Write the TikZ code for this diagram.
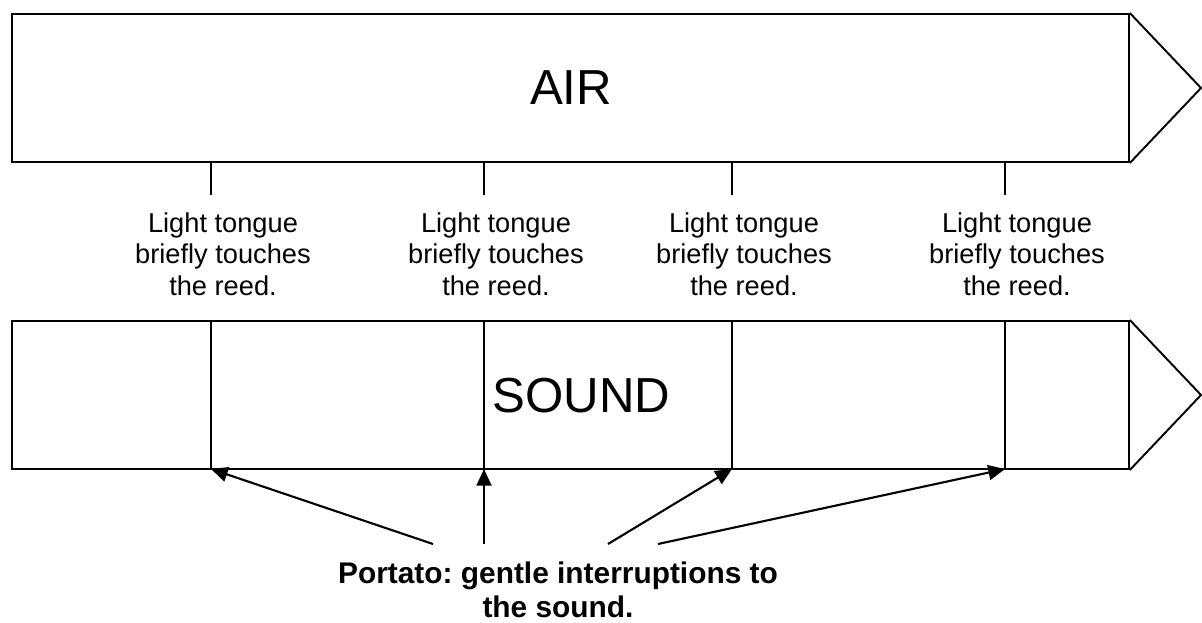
\documentclass[tikz,border=0pt]{standalone}
\usepackage{fontspec}
\setmainfont{Liberation Sans}
\usetikzlibrary{arrows.meta, positioning}
\frenchspacing

\begin{document}
\begin{tikzpicture}[
  x=0.02cm, y=-0.02cm,
  bar/.style={draw, line width=1.1pt, minimum width=22.34cm, minimum height=2.96cm, inner sep=0pt},
  big/.style={font=\fontsize{28}{32}\selectfont},
  note/.style={align=center, font=\fontsize{15.5}{18}\selectfont},
  caption/.style={align=center, font=\fontsize{17}{19.5}\selectfont\bfseries},
  tick/.style={line width=1pt},
  tip/.style={line width=1.1pt, line join=miter},
  arrow/.style={-{Triangle[length=9.5pt,width=8.5pt]}, line width=1.2pt}
]
\useasboundingbox (0,0) rectangle (1202,622);

% Air and sound bars
\node[bar] (air) at (570.5,88) {};
\node[bar] (sound) at (570.5,395) {};
\node[big] (airtext) at (571,88) {AIR};
\node[big] (soundtext) at (581.5,396) {SOUND};
\draw[tip] (air.north east) -- (1201,88) -- (air.south east);
\draw[tip] (sound.north east) -- (1201,395) -- (sound.south east);

% Tongue touches and breaks in the sound
\foreach \x/\n in {211/1, 484/2, 732/3, 1005/4} {
  \draw[tick] (\x,162) -- (\x,195);
  \draw[tick] (\x,321) -- (\x,469);
  \coordinate (cut\n) at (\x,469);
  \node[note] (note\n) at (\x+12,254) {Light tongue\\briefly touches\\the reed.};
}

% Caption
\node[caption] (portato) at (558,590) {Portato: gentle interruptions to\\the sound.};
\coordinate (from1) at (433,544);
\coordinate (from2) at (484,544);
\coordinate (from3) at (608,544);
\coordinate (from4) at (658,544);

% Arrows
\draw[arrow] (from1) -- (cut1);
\draw[arrow] (from2) -- (cut2);
\draw[arrow] (from3) -- (cut3);
\draw[arrow] (from4) -- (cut4);
\end{tikzpicture}
\end{document}
